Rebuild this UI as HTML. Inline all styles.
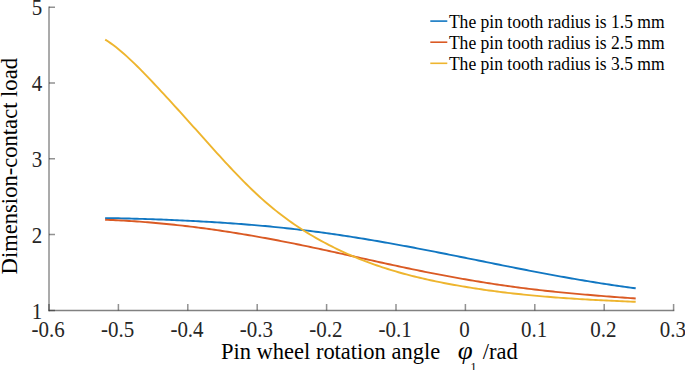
<!DOCTYPE html>
<html><head><meta charset="utf-8"><style>
html,body{margin:0;padding:0;background:#fff;}
svg{display:block;font-family:"Liberation Serif",serif;}
</style></head><body>
<svg width="685" height="370" viewBox="0 0 685 370">
<path d="M105.10,218.10 L107.77,218.14 L110.43,218.18 L113.10,218.22 L115.77,218.27 L118.43,218.32 L121.10,218.37 L123.76,218.43 L126.43,218.48 L129.10,218.55 L131.76,218.61 L134.43,218.68 L137.10,218.76 L139.76,218.83 L142.43,218.91 L145.09,218.99 L147.76,219.08 L150.43,219.17 L153.09,219.26 L155.76,219.35 L158.43,219.45 L161.09,219.55 L163.76,219.66 L166.43,219.76 L169.09,219.87 L171.76,219.99 L174.42,220.10 L177.09,220.22 L179.76,220.35 L182.42,220.47 L185.09,220.60 L187.76,220.74 L190.42,220.87 L193.09,221.01 L195.76,221.15 L198.42,221.29 L201.09,221.44 L203.75,221.59 L206.42,221.75 L209.09,221.90 L211.75,222.06 L214.42,222.23 L217.09,222.39 L219.75,222.56 L222.42,222.74 L225.08,222.91 L227.75,223.09 L230.42,223.28 L233.08,223.47 L235.75,223.66 L238.42,223.86 L241.08,224.06 L243.75,224.27 L246.42,224.48 L249.08,224.69 L251.75,224.91 L254.41,225.13 L257.08,225.36 L259.75,225.59 L262.41,225.83 L265.08,226.07 L267.75,226.32 L270.41,226.57 L273.08,226.83 L275.75,227.09 L278.41,227.36 L281.08,227.63 L283.74,227.91 L286.41,228.19 L289.08,228.48 L291.74,228.78 L294.41,229.08 L297.08,229.38 L299.74,229.69 L302.41,230.01 L305.07,230.34 L307.74,230.67 L310.41,231.00 L313.07,231.34 L315.74,231.69 L318.41,232.04 L321.07,232.40 L323.74,232.76 L326.41,233.13 L329.07,233.51 L331.74,233.89 L334.40,234.27 L337.07,234.66 L339.74,235.05 L342.40,235.45 L345.07,235.86 L347.74,236.26 L350.40,236.68 L353.07,237.10 L355.74,237.52 L358.40,237.94 L361.07,238.38 L363.73,238.81 L366.40,239.25 L369.07,239.69 L371.73,240.14 L374.40,240.59 L377.07,241.05 L379.73,241.51 L382.40,241.97 L385.06,242.44 L387.73,242.91 L390.40,243.39 L393.06,243.86 L395.73,244.34 L398.40,244.83 L401.06,245.32 L403.73,245.81 L406.40,246.30 L409.06,246.80 L411.73,247.30 L414.39,247.80 L417.06,248.31 L419.73,248.82 L422.39,249.33 L425.06,249.84 L427.73,250.36 L430.39,250.88 L433.06,251.40 L435.73,251.92 L438.39,252.45 L441.06,252.97 L443.72,253.50 L446.39,254.03 L449.06,254.56 L451.72,255.10 L454.39,255.63 L457.06,256.17 L459.72,256.70 L462.39,257.24 L465.05,257.78 L467.72,258.31 L470.39,258.85 L473.05,259.39 L475.72,259.93 L478.39,260.47 L481.05,261.01 L483.72,261.55 L486.39,262.09 L489.05,262.63 L491.72,263.16 L494.38,263.70 L497.05,264.24 L499.72,264.77 L502.38,265.31 L505.05,265.84 L507.72,266.37 L510.38,266.90 L513.05,267.43 L515.72,267.96 L518.38,268.49 L521.05,269.01 L523.71,269.53 L526.38,270.05 L529.05,270.57 L531.71,271.08 L534.38,271.60 L537.05,272.11 L539.71,272.61 L542.38,273.12 L545.04,273.62 L547.71,274.12 L550.38,274.61 L553.04,275.11 L555.71,275.59 L558.38,276.08 L561.04,276.56 L563.71,277.04 L566.38,277.52 L569.04,277.99 L571.71,278.45 L574.37,278.92 L577.04,279.38 L579.71,279.83 L582.37,280.29 L585.04,280.73 L587.71,281.18 L590.37,281.61 L593.04,282.05 L595.71,282.48 L598.37,282.90 L601.04,283.32 L603.70,283.73 L606.37,284.14 L609.04,284.55 L611.70,284.95 L614.37,285.34 L617.04,285.73 L619.70,286.11 L622.37,286.49 L625.03,286.86 L627.70,287.23 L630.37,287.59 L633.03,287.94 L635.70,288.29" stroke="#1177C2" stroke-width="1.9" fill="none"/>
<path d="M105.10,219.73 L107.77,219.84 L110.43,219.95 L113.10,220.07 L115.77,220.20 L118.43,220.34 L121.10,220.48 L123.76,220.63 L126.43,220.78 L129.10,220.95 L131.76,221.12 L134.43,221.30 L137.10,221.48 L139.76,221.67 L142.43,221.87 L145.09,222.08 L147.76,222.29 L150.43,222.51 L153.09,222.73 L155.76,222.96 L158.43,223.20 L161.09,223.45 L163.76,223.70 L166.43,223.96 L169.09,224.23 L171.76,224.50 L174.42,224.78 L177.09,225.07 L179.76,225.36 L182.42,225.66 L185.09,225.97 L187.76,226.28 L190.42,226.60 L193.09,226.93 L195.76,227.26 L198.42,227.60 L201.09,227.94 L203.75,228.30 L206.42,228.66 L209.09,229.02 L211.75,229.39 L214.42,229.77 L217.09,230.15 L219.75,230.54 L222.42,230.94 L225.08,231.34 L227.75,231.75 L230.42,232.16 L233.08,232.58 L235.75,233.01 L238.42,233.44 L241.08,233.88 L243.75,234.32 L246.42,234.77 L249.08,235.22 L251.75,235.68 L254.41,236.14 L257.08,236.61 L259.75,237.08 L262.41,237.56 L265.08,238.05 L267.75,238.54 L270.41,239.03 L273.08,239.53 L275.75,240.04 L278.41,240.54 L281.08,241.06 L283.74,241.58 L286.41,242.10 L289.08,242.63 L291.74,243.16 L294.41,243.69 L297.08,244.23 L299.74,244.78 L302.41,245.33 L305.07,245.88 L307.74,246.43 L310.41,246.99 L313.07,247.56 L315.74,248.12 L318.41,248.69 L321.07,249.27 L323.74,249.84 L326.41,250.42 L329.07,251.00 L331.74,251.58 L334.40,252.17 L337.07,252.75 L339.74,253.34 L342.40,253.93 L345.07,254.52 L347.74,255.11 L350.40,255.70 L353.07,256.29 L355.74,256.88 L358.40,257.48 L361.07,258.07 L363.73,258.66 L366.40,259.26 L369.07,259.85 L371.73,260.44 L374.40,261.03 L377.07,261.62 L379.73,262.20 L382.40,262.79 L385.06,263.37 L387.73,263.96 L390.40,264.54 L393.06,265.12 L395.73,265.69 L398.40,266.26 L401.06,266.84 L403.73,267.40 L406.40,267.97 L409.06,268.53 L411.73,269.08 L414.39,269.64 L417.06,270.19 L419.73,270.73 L422.39,271.27 L425.06,271.81 L427.73,272.34 L430.39,272.87 L433.06,273.39 L435.73,273.91 L438.39,274.42 L441.06,274.93 L443.72,275.44 L446.39,275.94 L449.06,276.43 L451.72,276.92 L454.39,277.41 L457.06,277.89 L459.72,278.36 L462.39,278.83 L465.05,279.30 L467.72,279.76 L470.39,280.21 L473.05,280.66 L475.72,281.11 L478.39,281.55 L481.05,281.98 L483.72,282.41 L486.39,282.83 L489.05,283.25 L491.72,283.67 L494.38,284.07 L497.05,284.47 L499.72,284.87 L502.38,285.26 L505.05,285.64 L507.72,286.02 L510.38,286.40 L513.05,286.76 L515.72,287.12 L518.38,287.48 L521.05,287.83 L523.71,288.17 L526.38,288.51 L529.05,288.84 L531.71,289.17 L534.38,289.49 L537.05,289.80 L539.71,290.11 L542.38,290.41 L545.04,290.71 L547.71,291.00 L550.38,291.28 L553.04,291.56 L555.71,291.84 L558.38,292.11 L561.04,292.38 L563.71,292.64 L566.38,292.90 L569.04,293.15 L571.71,293.40 L574.37,293.64 L577.04,293.89 L579.71,294.12 L582.37,294.36 L585.04,294.59 L587.71,294.82 L590.37,295.04 L593.04,295.26 L595.71,295.48 L598.37,295.69 L601.04,295.91 L603.70,296.12 L606.37,296.33 L609.04,296.53 L611.70,296.74 L614.37,296.94 L617.04,297.14 L619.70,297.34 L622.37,297.53 L625.03,297.73 L627.70,297.92 L630.37,298.11 L633.03,298.31 L635.70,298.50" stroke="#DA5A24" stroke-width="1.9" fill="none"/>
<path d="M105.20,39.59 L107.87,41.31 L110.53,43.15 L113.20,45.08 L115.86,47.12 L118.53,49.25 L121.19,51.46 L123.86,53.76 L126.53,56.14 L129.19,58.58 L131.86,61.09 L134.52,63.66 L137.19,66.28 L139.86,68.94 L142.52,71.65 L145.19,74.39 L147.85,77.16 L150.52,79.95 L153.18,82.76 L155.85,85.59 L158.52,88.44 L161.18,91.30 L163.85,94.18 L166.51,97.06 L169.18,99.97 L171.85,102.88 L174.51,105.81 L177.18,108.74 L179.84,111.69 L182.51,114.64 L185.17,117.60 L187.84,120.56 L190.51,123.53 L193.17,126.51 L195.84,129.49 L198.50,132.47 L201.17,135.45 L203.84,138.44 L206.50,141.42 L209.17,144.40 L211.83,147.37 L214.50,150.33 L217.16,153.28 L219.83,156.21 L222.50,159.13 L225.16,162.03 L227.83,164.91 L230.49,167.77 L233.16,170.60 L235.83,173.40 L238.49,176.18 L241.16,178.92 L243.82,181.62 L246.49,184.29 L249.15,186.92 L251.82,189.51 L254.49,192.05 L257.15,194.55 L259.82,196.99 L262.48,199.39 L265.15,201.73 L267.82,204.03 L270.48,206.28 L273.15,208.48 L275.81,210.63 L278.48,212.73 L281.14,214.79 L283.81,216.81 L286.48,218.78 L289.14,220.71 L291.81,222.60 L294.47,224.44 L297.14,226.25 L299.81,228.01 L302.47,229.74 L305.14,231.43 L307.80,233.08 L310.47,234.70 L313.13,236.28 L315.80,237.83 L318.47,239.34 L321.13,240.82 L323.80,242.27 L326.46,243.69 L329.13,245.08 L331.80,246.44 L334.46,247.77 L337.13,249.07 L339.79,250.34 L342.46,251.59 L345.12,252.81 L347.79,254.00 L350.46,255.17 L353.12,256.31 L355.79,257.43 L358.45,258.52 L361.12,259.59 L363.79,260.63 L366.45,261.66 L369.12,262.65 L371.78,263.63 L374.45,264.58 L377.11,265.51 L379.78,266.42 L382.45,267.31 L385.11,268.18 L387.78,269.03 L390.44,269.85 L393.11,270.66 L395.78,271.45 L398.44,272.23 L401.11,272.98 L403.77,273.72 L406.44,274.44 L409.10,275.14 L411.77,275.83 L414.44,276.50 L417.10,277.15 L419.77,277.79 L422.43,278.42 L425.10,279.03 L427.77,279.63 L430.43,280.22 L433.10,280.79 L435.76,281.35 L438.43,281.90 L441.09,282.43 L443.76,282.96 L446.43,283.47 L449.09,283.98 L451.76,284.47 L454.42,284.96 L457.09,285.43 L459.76,285.90 L462.42,286.36 L465.09,286.81 L467.75,287.25 L470.42,287.68 L473.08,288.10 L475.75,288.51 L478.42,288.91 L481.08,289.31 L483.75,289.70 L486.41,290.08 L489.08,290.45 L491.75,290.81 L494.41,291.17 L497.08,291.51 L499.74,291.85 L502.41,292.19 L505.07,292.51 L507.74,292.83 L510.41,293.14 L513.07,293.44 L515.74,293.74 L518.40,294.03 L521.07,294.31 L523.74,294.59 L526.40,294.86 L529.07,295.12 L531.73,295.38 L534.40,295.63 L537.06,295.88 L539.73,296.12 L542.40,296.35 L545.06,296.58 L547.73,296.80 L550.39,297.02 L553.06,297.23 L555.73,297.44 L558.39,297.64 L561.06,297.84 L563.72,298.03 L566.39,298.21 L569.05,298.40 L571.72,298.57 L574.39,298.75 L577.05,298.92 L579.72,299.08 L582.38,299.24 L585.05,299.40 L587.72,299.55 L590.38,299.70 L593.05,299.85 L595.71,299.99 L598.38,300.13 L601.04,300.27 L603.71,300.40 L606.38,300.53 L609.04,300.66 L611.71,300.78 L614.37,300.90 L617.04,301.02 L619.71,301.14 L622.37,301.25 L625.04,301.36 L627.70,301.47 L630.37,301.58 L633.03,301.69 L635.70,301.79" stroke="#EEB52E" stroke-width="1.9" fill="none"/>
<path d="M49.0,6.6 L49.0,311.2" stroke="#262626" stroke-width="1.3" fill="none" stroke-opacity="0.6"/>
<path d="M48.4,310.5 L674.3,310.5" stroke="#262626" stroke-width="1.6" fill="none" stroke-opacity="0.58"/>
<path d="M49.0,310.5 L49.0,304.0 M118.4,310.5 L118.4,304.0 M187.8,310.5 L187.8,304.0 M257.2,310.5 L257.2,304.0 M326.6,310.5 L326.6,304.0 M396.0,310.5 L396.0,304.0 M465.4,310.5 L465.4,304.0 M534.8,310.5 L534.8,304.0 M604.2,310.5 L604.2,304.0 M673.6,310.5 L673.6,304.0 M49.0,310.4 L55.0,310.4 M49.0,234.6 L55.0,234.6 M49.0,158.8 L55.0,158.8 M49.0,83.0 L55.0,83.0 M49.0,7.2 L55.0,7.2" stroke="#262626" stroke-width="1.5" fill="none" stroke-opacity="0.5"/>
<g font-size="21" fill="#262626"><text transform="translate(48.2,336.9) scale(1,1.09)" text-anchor="middle">-0.6</text><text transform="translate(117.6,336.9) scale(1,1.09)" text-anchor="middle">-0.5</text><text transform="translate(187.0,336.9) scale(1,1.09)" text-anchor="middle">-0.4</text><text transform="translate(256.4,336.9) scale(1,1.09)" text-anchor="middle">-0.3</text><text transform="translate(325.8,336.9) scale(1,1.09)" text-anchor="middle">-0.2</text><text transform="translate(395.2,336.9) scale(1,1.09)" text-anchor="middle">-0.1</text><text transform="translate(464.6,336.9) scale(1,1.09)" text-anchor="middle">0</text><text transform="translate(534.0,336.9) scale(1,1.09)" text-anchor="middle">0.1</text><text transform="translate(603.4,336.9) scale(1,1.09)" text-anchor="middle">0.2</text><text transform="translate(672.8,336.9) scale(1,1.09)" text-anchor="middle">0.3</text><text transform="translate(42.2,318.8) scale(1,1.1)" text-anchor="end">1</text><text transform="translate(42.2,243.0) scale(1,1.1)" text-anchor="end">2</text><text transform="translate(42.2,167.2) scale(1,1.1)" text-anchor="end">3</text><text transform="translate(42.2,91.4) scale(1,1.1)" text-anchor="end">4</text><text transform="translate(42.2,14.8) scale(1,1.1)" text-anchor="end">5</text></g>
<text transform="translate(221,359) scale(1,1.035)" font-size="22.5" fill="#000">Pin wheel rotation angle</text>
<text transform="translate(457.75,359) scale(1.17,1.09)" font-size="23" font-style="italic" fill="#000">&#966;</text>
<text x="470.5" y="370.6" font-size="12" fill="#000">1</text>
<text transform="translate(482.7,359) scale(1,1.035)" font-size="22.5" fill="#000">/rad</text>
<text transform="translate(16.7,274.4) rotate(-90) scale(1,0.98)" font-size="22.6" fill="#000">Dimension-contact load</text>
<path d="M430.3,21.1 L447.3,21.1" stroke="#1177C2" stroke-width="1.6"/><text transform="translate(448.9,28.2) scale(1,1.03)" font-size="17.55" fill="#000">The pin tooth radius is 1.5 mm</text><path d="M430.3,42.2 L447.3,42.2" stroke="#DA5A24" stroke-width="1.6"/><text transform="translate(448.9,49.3) scale(1,1.03)" font-size="17.55" fill="#000">The pin tooth radius is 2.5 mm</text><path d="M430.3,63.3 L447.3,63.3" stroke="#EEB52E" stroke-width="1.6"/><text transform="translate(448.9,70.4) scale(1,1.03)" font-size="17.55" fill="#000">The pin tooth radius is 3.5 mm</text>
</svg>
</body></html>
